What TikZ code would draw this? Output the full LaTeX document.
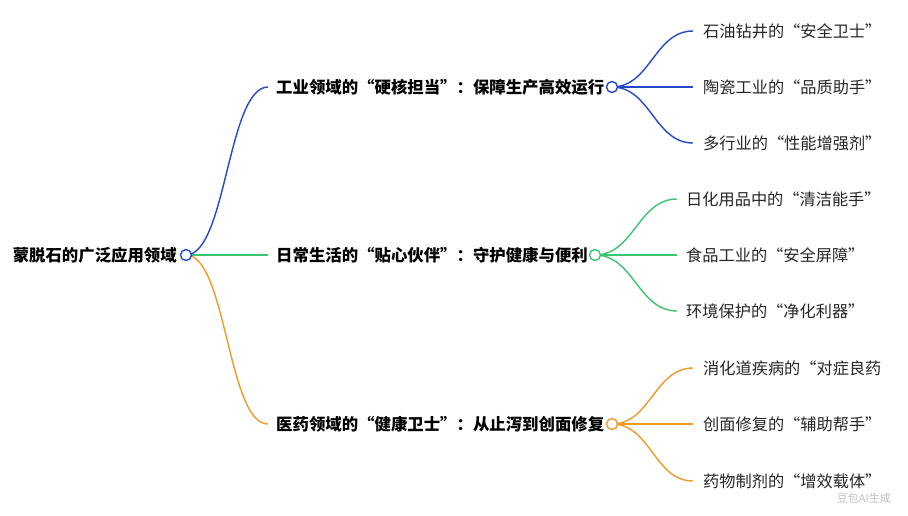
\documentclass[tikz,border=0pt]{standalone}
\usepackage{fontspec}
\setmainfont{Noto Sans CJK SC}
\usetikzlibrary{backgrounds}
\definecolor{cblue}{HTML}{2449C8}
\definecolor{cgreen}{HTML}{3DC46E}
\definecolor{corange}{HTML}{F09A2A}
\tikzset{
  root/.style={anchor=east,inner sep=0pt,font=\fontsize{16.4}{16.4}\selectfont\bfseries,text=black},
  branch/.style={anchor=west,inner sep=0pt,font=\fontsize{16.4}{16.4}\selectfont\bfseries,text=black},
  leaf/.style={anchor=west,inner sep=0pt,font=\fontsize{16.2}{16.2}\selectfont,text=black!85},
  dot/.style={circle,draw=#1,line width=1.4pt,fill=white,minimum size=11pt,inner sep=0pt},
  link/.style={draw=#1,line width=1.4pt},
}
\begin{document}
\begin{tikzpicture}[x=1pt,y=-1pt]
\useasboundingbox (0,0) rectangle (908,515);
% root
\node[dot=cblue] (r) at (186,255) {};
\node[root] (rt) at (177,255) {蒙脱石的广泛应用领域};
% branches
\node[branch] (b1) at (276,87) {工业领域的“硬核担当”：保障生产高效运行};
\node[branch] (b2) at (276,255) {日常生活的“贴心伙伴”：守护健康与便利};
\node[branch] (b3) at (276,424) {医药领域的“健康卫士”：从止泻到创面修复};
\node[dot=cblue] (c1) at (612,87) {};
\node[dot=cgreen] (c2) at (595,255) {};
\node[dot=corange] (c3) at (612,424) {};
% leaves
\node[leaf] (l11) at (703,31) {石油钻井的“安全卫士”};
\node[leaf] (l12) at (703,87) {陶瓷工业的“品质助手”};
\node[leaf] (l13) at (703,143) {多行业的“性能增强剂”};
\node[leaf] (l21) at (686,199) {日化用品中的“清洁能手”};
\node[leaf] (l22) at (686,255) {食品工业的“安全屏障”};
\node[leaf] (l23) at (686,311) {环境保护的“净化利器”};
\node[leaf] (l31) at (703,368) {消化道疾病的“对症良药};
\node[leaf] (l32) at (703,424) {创面修复的“辅助帮手”};
\node[leaf] (l33) at (703,481) {药物制剂的“增效载体”};
% watermark
\node[anchor=east,inner sep=0pt,font=\fontsize{11}{11}\selectfont,text=black!25] (wm) at (891,498) {豆包AI生成};
\begin{pgfonlayer}{background}
\fill[white] (0,0) rectangle (908,515);
\draw[link=cblue] (r.center) to[out=0,in=180,looseness=0.55] ([xshift=-8pt]b1.west);
\draw[link=cgreen] (r.center) -- ([xshift=-8pt]b2.west);
\draw[link=corange] (r.center) to[out=0,in=180,looseness=0.55] ([xshift=-8pt]b3.west);
\foreach \l in {l11,l12,l13}
  \draw[link=cblue] (c1.center) to[out=0,in=180] ([xshift=-10pt]\l.west);
\foreach \l in {l21,l22,l23}
  \draw[link=cgreen] (c2.center) to[out=0,in=180] ([xshift=-9pt]\l.west);
\foreach \l in {l31,l32,l33}
  \draw[link=corange] (c3.center) to[out=0,in=180] ([xshift=-10pt]\l.west);
\end{pgfonlayer}
\end{tikzpicture}
\end{document}
